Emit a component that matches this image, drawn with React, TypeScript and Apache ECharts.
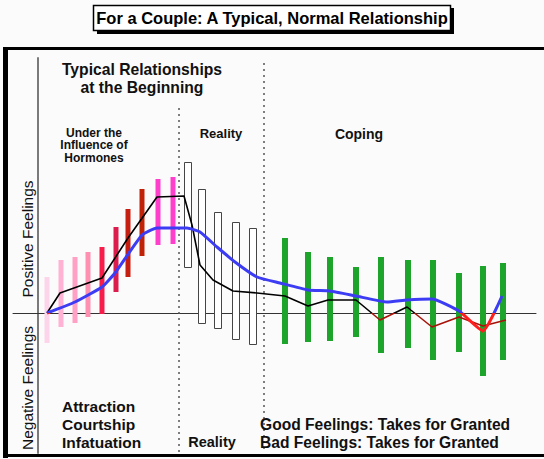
import React, { useEffect, useRef } from "react";
import * as echarts from "echarts";

// Time positions of the bars (arbitrary time units, y-axis at 0)
const barX = [9, 23, 37, 50, 64, 78, 90, 104, 120, 135, 149, 163, 179, 197, 214, 247, 270, 292, 318, 343, 370, 395, 421, 445, 465];
// Range of feelings for each bar
const barHigh = [36, 53, 56, 61, 66, 86, 104, 124, 134, 136, 151, 124, 101, 91, 85, 75, 61, 56, 46, 56, 53, 53, 40, 47, 50];
const barLow = [-30, -14, -10, -4, -1, 21, 36, 57, 68, 69, 46, -10, -15, -26, -31, -31, -29, -28, -24, -40, -35, -47, -39, -63, -47];
// Phase of each bar
const barPhase = ["h", "h", "h", "h", "h", "h", "h", "h", "h", "h", "r", "r", "r", "r", "r", "c", "c", "c", "c", "c", "c", "c", "c", "c", "c"];

// Black line (one partner)
const blackX = [9, 22, 64, 90, 119, 146, 154, 162, 175, 195, 219, 247, 270, 290, 318, 342, 369, 394, 421, 445, 468];
const blackY = [0, 20, 35, 75, 116, 117, 88, 48, 33, 22, 20, 17, 7, 13, 13, -7, 6, -14, -4, -13, -7];
// Blue line (other partner)
const blueX = [9, 37, 64, 77, 104, 119, 149, 162, 179, 197, 219, 242, 270, 292, 318, 349, 369, 394, 421, 445, 464];
const blueY = [0, 11, 26, 40, 78, 85, 85, 81, 66, 51, 36, 30, 23, 22, 17, 11, 13, 14, 2, -18, 17];

// Phase boundaries (dotted lines): x position and top
const phaseLineX = [141, 226];
const phaseLineTop = [205, 250];
const axisBottom = -140;
const axisTop = 255;

// Styling
const hormoneColors = ["#fdd5eb", "#ffb2d4", "#ffa0c4", "#ff90b2", "#f81c4a", "#dc1c4c", "#c61e10", "#c02208", "#ff3ecc", "#ff3ecc"];
const FONT = '"Liberation Sans", Arial, Helvetica, sans-serif';

export default function App() {
  const ref = useRef<HTMLDivElement>(null);
  useEffect(() => {
    if (!ref.current) return;
    const chart = echarts.init(ref.current, null, { renderer: "svg" });
    const barData = barX.map((x, i) => [x, barLow[i], barHigh[i]]);
    const dottedSeries = phaseLineX.map((x, k) => ({
      type: "line",
      data: [[x, phaseLineTop[k]], [x, axisBottom]],
      symbol: "none",
      silent: true,
      lineStyle: { color: "#555", width: 1.5, type: [2, 4] },
      z: 1,
    }));
    const option: any = {
      animation: false,
      backgroundColor: "#fbfbfb",
      grid: { left: 13, right: 8, top: 58, bottom: 6 },
      xAxis: {
        type: "value",
        min: -25,
        max: 498,
        axisLine: { show: true, onZero: true, lineStyle: { color: "#333", width: 1 } },
        axisTick: { show: false },
        axisLabel: { show: false },
        splitLine: { show: false },
      },
      yAxis: {
        type: "value",
        min: axisBottom,
        max: axisTop,
        axisLine: { show: true, onZero: true, lineStyle: { color: "#7a7a7a", width: 2 } },
        axisTick: { show: false },
        axisLabel: { show: false },
        splitLine: { show: false },
      },
      visualMap: [
        {
          type: "piecewise",
          show: false,
          dimension: 1,
          seriesIndex: 1,
          pieces: [
            { gt: 0, lte: axisTop, color: "#000000" },
            { gte: axisBottom, lte: 0, color: "#a81208" },
          ],
        },
        {
          type: "piecewise",
          show: false,
          dimension: 1,
          seriesIndex: 2,
          pieces: [
            { gt: 0, lte: axisTop, color: "#3c3cf4" },
            { gte: axisBottom, lte: 0, color: "#ff1e1e" },
          ],
        },
      ],
      series: [
        {
          type: "custom",
          data: barData,
          encode: { x: 0, y: [1, 2] },
          renderItem: (params: any, api: any) => {
            const i = params.dataIndex;
            const x = api.value(0);
            const top = api.coord([x, api.value(2)]);
            const bot = api.coord([x, api.value(1)]);
            const phase = barPhase[i];
            if (phase === "r") {
              const w = 7;
              return {
                type: "rect",
                shape: { x: Math.round(top[0] - w / 2) + 0.5, y: Math.round(top[1]) + 0.5, width: w, height: Math.round(bot[1] - top[1]) },
                style: { fill: "#ffffff", stroke: "#454545", lineWidth: 1 },
              };
            }
            const w = phase === "h" ? 5 : 6;
            return {
              type: "rect",
              shape: { x: top[0] - w / 2, y: top[1], width: w, height: bot[1] - top[1] },
              style: { fill: phase === "h" ? hormoneColors[i] : "#1ca52a" },
            };
          },
          z: 2,
        },
        {
          type: "line",
          data: blackX.map((x, i) => [x, blackY[i]]),
          symbol: "none",
          lineStyle: { width: 1.6 },
          z: 3,
        },
        {
          type: "line",
          data: blueX.map((x, i) => [x, blueY[i]]),
          symbol: "none",
          smooth: 0.15,
          lineStyle: { width: 3 },
          z: 4,
        },
        ...dottedSeries,
      ],
      graphic: [
        // outer frame
        { type: "rect", shape: { x: 4.5, y: 48.5, width: 560, height: 407 }, style: { fill: "none", stroke: "#000", lineWidth: 3 }, z: 10 },
        { type: "rect", shape: { x: 3, y: 47, width: 5, height: 411 }, style: { fill: "#000" }, z: 10 },
        // title box with shadow
        { type: "rect", shape: { x: 97, y: 8, width: 357, height: 26 }, style: { fill: "#000" }, z: 10 },
        { type: "rect", shape: { x: 93.5, y: 5.5, width: 357, height: 25 }, style: { fill: "#fff", stroke: "#000", lineWidth: 1.5 }, z: 11 },
        { type: "text", x: 272, y: 18, z: 12, style: { text: "For a Couple: A Typical, Normal Relationship", font: `bold 16.5px ${FONT}`, fill: "#000", textAlign: "center", textVerticalAlign: "middle" } },
        // upper annotations
        { type: "text", x: 142, y: 78, z: 12, style: { text: "Typical Relationships\nat the Beginning", font: `bold 15.7px ${FONT}`, lineHeight: 18, fill: "#111", textAlign: "center", textVerticalAlign: "middle" } },
        { type: "text", x: 94, y: 145, z: 12, style: { text: "Under the\nInfluence of\nHormones", font: `bold 12px ${FONT}`, lineHeight: 12.5, fill: "#111", textAlign: "center", textVerticalAlign: "middle" } },
        { type: "text", x: 221, y: 133, z: 12, style: { text: "Reality", font: `bold 13px ${FONT}`, fill: "#111", textAlign: "center", textVerticalAlign: "middle" } },
        { type: "text", x: 359, y: 134, z: 12, style: { text: "Coping", font: `bold 14px ${FONT}`, fill: "#111", textAlign: "center", textVerticalAlign: "middle" } },
        // axis side labels
        { type: "text", x: 27, y: 239, rotation: Math.PI / 2, z: 12, style: { text: "Positive Feelings", font: `15.5px ${FONT}`, fill: "#111", textAlign: "center", textVerticalAlign: "middle" } },
        { type: "text", x: 27, y: 388, rotation: Math.PI / 2, z: 12, style: { text: "Negative Feelings", font: `15.5px ${FONT}`, fill: "#111", textAlign: "center", textVerticalAlign: "middle" } },
        // lower annotations
        { type: "text", x: 62, y: 424, z: 12, style: { text: "Attraction\nCourtship\nInfatuation", font: `bold 15.5px ${FONT}`, lineHeight: 18, fill: "#111", textAlign: "left", textVerticalAlign: "middle" } },
        { type: "text", x: 212, y: 442, z: 12, style: { text: "Reality", font: `bold 14.5px ${FONT}`, fill: "#111", textAlign: "center", textVerticalAlign: "middle" } },
        { type: "text", x: 260, y: 433, z: 12, style: { text: "Good Feelings: Takes for Granted\nBad Feelings: Takes for Granted", font: `bold 15.6px ${FONT}`, lineHeight: 18, fill: "#111", textAlign: "left", textVerticalAlign: "middle" } },
      ],
    };
    chart.setOption(option);
    return () => chart.dispose();
  }, []);
  return <div ref={ref} style={{ position: "absolute", left: 0, top: 0, width: 544, height: 459 }} />;
}
